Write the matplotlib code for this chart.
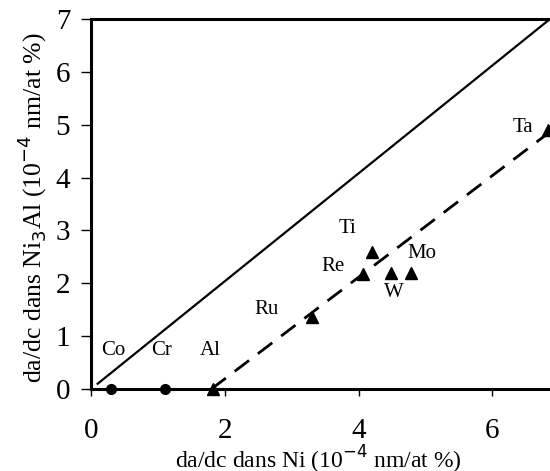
import matplotlib.pyplot as plt

plt.rcParams['font.family'] = ['Liberation Serif', 'DejaVu Serif']

# circles (on the axis)
circle_elems = ['Co', 'Cr']
circle_x = [0.3, 1.1]
circle_y = [0.0, 0.0]

# triangles
tri_elems = ['Al', 'Ru', 'Re', 'Ti', 'W', 'Mo', 'Ta']
tri_x = [1.82, 3.3, 4.07, 4.2, 4.49, 4.79, 6.83]
tri_y = [0.0, 1.36, 2.17, 2.6, 2.19, 2.19, 4.9]

# label positions (data coords)
label_names = ['Co', 'Cr', 'Al', 'Ru', 'Re', 'Ti', 'W', 'Mo', 'Ta']
label_x = [0.34, 1.05, 1.78, 2.62, 3.61, 3.84, 4.52, 4.95, 6.46]
label_y = [0.72, 0.72, 0.72, 1.5, 2.31, 3.04, 1.83, 2.57, 4.95]

# reference lines
solid_x = [0.1, 6.86]
solid_y = [0.1, 7.0]
dash_x = [1.8, 7.0]
dash_y = [0.0, 5.0]

xticks = [0, 2, 4, 6]
yticks = [0, 1, 2, 3, 4, 5, 6, 7]

fig = plt.figure(figsize=(5.5, 4.71), dpi=100)
ax = fig.add_axes([91/550, 82/471, 1 - 91/550, 370/471])

ax.plot(solid_x, solid_y, color='black', lw=1.6)
ax.plot(dash_x, dash_y, color='black', lw=2, dashes=(6.5, 4))
ax.plot(circle_x, circle_y, 'o', color='black', ms=7, clip_on=False, zorder=5)
ax.plot(tri_x, tri_y, '^', color='black', ms=8, clip_on=False, zorder=5)

for name, x, y in zip(label_names, label_x, label_y):
    ax.text(x, y, name, fontsize=15, ha='center', va='center')

ax.set_xlim(0.06, 6.86)
ax.set_ylim(0, 7)
ax.set_xticks(xticks)
ax.set_yticks(yticks)
ax.tick_params(axis='x', labelsize=21, length=5, width=1, pad=16)
ax.tick_params(axis='y', labelsize=21, length=7, width=1, pad=8)

for side in ['left', 'bottom', 'top']:
    ax.spines[side].set_linewidth(2.2)
ax.spines['right'].set_visible(False)

ax.set_xlabel('da/dc dans Ni (10$^{-4}$ nm/at %)', fontsize=17)
ax.set_ylabel('da/dc dans Ni$_3$Al (10$^{-4}$ nm/at %)', fontsize=18.5)
ax.xaxis.set_label_coords(0.495, -0.147)
ax.yaxis.set_label_coords(-0.092, 0.49)

fig.savefig('out.png', dpi=100)
